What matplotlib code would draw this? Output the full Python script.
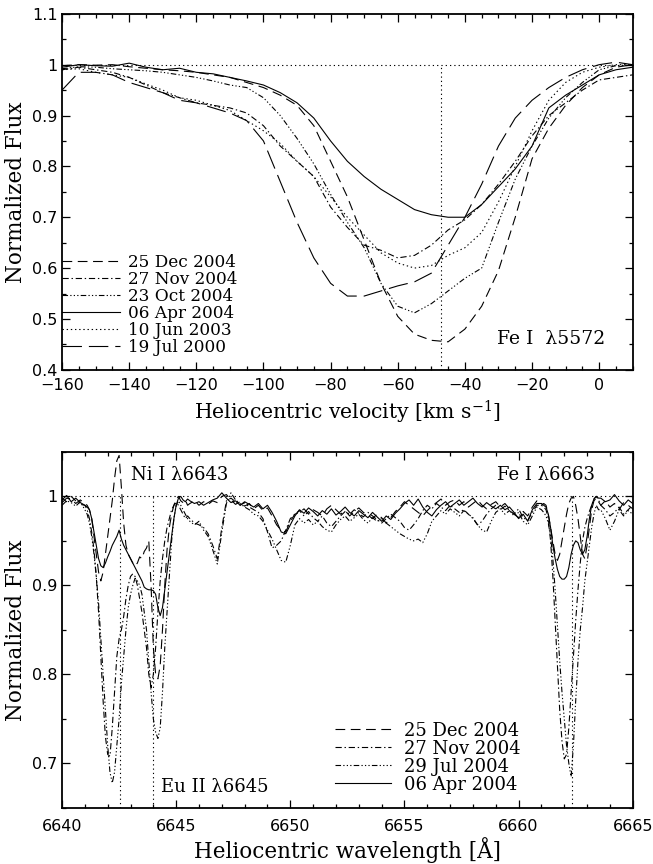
import numpy as np
import matplotlib
matplotlib.use("Agg")
import matplotlib.pyplot as plt
from matplotlib.ticker import MultipleLocator, FuncFormatter

plt.rcParams['lines.scale_dashes'] = False
plt.rcParams['mathtext.fontset'] = 'dejavuserif'
plt.rcParams['font.family'] = 'DejaVu Sans'

# ---- top panel: Fe I 5572 profiles vs heliocentric velocity
velocity = np.arange(-160, 11, 5)

dec25_2004 = [0.998, 1.000, 0.999, 1.000, 0.996, 0.993, 0.990, 0.988, 0.985, 0.980,
              0.975, 0.965, 0.955, 0.940, 0.920, 0.880, 0.810, 0.740, 0.655, 0.570,
              0.505, 0.470, 0.458, 0.455, 0.480, 0.525, 0.595, 0.700, 0.815, 0.875,
              0.920, 0.955, 0.980, 0.995, 1.000]
nov27_2004 = [0.990, 0.995, 0.990, 0.985, 0.975, 0.960, 0.945, 0.935, 0.925, 0.920,
              0.915, 0.905, 0.880, 0.840, 0.810, 0.780, 0.720, 0.680, 0.645, 0.635,
              0.620, 0.625, 0.645, 0.675, 0.695, 0.725, 0.765, 0.810, 0.860, 0.900,
              0.925, 0.950, 0.970, 0.975, 0.980]
oct23_2004 = [0.992, 0.996, 0.995, 0.992, 0.990, 0.988, 0.985, 0.980, 0.975, 0.968,
              0.960, 0.955, 0.935, 0.900, 0.855, 0.805, 0.745, 0.690, 0.640, 0.570,
              0.525, 0.512, 0.530, 0.555, 0.580, 0.600, 0.690, 0.775, 0.840, 0.895,
              0.935, 0.965, 0.990, 0.998, 1.000]
apr06_2004 = [0.995, 1.000, 0.998, 0.997, 1.003, 0.995, 0.990, 0.993, 0.985, 0.982,
              0.975, 0.968, 0.960, 0.945, 0.925, 0.895, 0.850, 0.810, 0.780, 0.755,
              0.735, 0.715, 0.705, 0.700, 0.700, 0.725, 0.760, 0.795, 0.840, 0.915,
              0.940, 0.960, 0.980, 0.990, 0.995]
jun10_2003 = [0.990, 0.992, 0.985, 0.980, 0.975, 0.962, 0.950, 0.935, 0.930, 0.920,
              0.910, 0.890, 0.870, 0.845, 0.810, 0.780, 0.740, 0.700, 0.665, 0.630,
              0.610, 0.600, 0.605, 0.625, 0.640, 0.670, 0.730, 0.800, 0.870, 0.930,
              0.965, 0.985, 0.995, 1.000, 1.000]
jul19_2000 = [0.950, 0.985, 0.985, 0.980, 0.965, 0.955, 0.945, 0.930, 0.925, 0.915,
              0.905, 0.890, 0.850, 0.770, 0.690, 0.620, 0.570, 0.545, 0.545, 0.555,
              0.565, 0.573, 0.590, 0.645, 0.700, 0.765, 0.840, 0.895, 0.930, 0.955,
              0.975, 0.990, 1.000, 1.005, 1.000]
top_labels = ['25 Dec 2004', '27 Nov 2004', '23 Oct 2004',
              '06 Apr 2004', '10 Jun 2003', '19 Jul 2000']
rest_velocity = -47.0

# ---- bottom panel: 6640-6665 A region
wavelength = np.concatenate([
    np.linspace(6640.0, 6640.8, 5),
    np.linspace(6641.0, 6645.5, 46),
    np.linspace(6645.6, 6660.8, 77),
    np.linspace(6661.0, 6663.5, 26),
    np.linspace(6663.6, 6665.0, 8),
])

dec25_flux = [
    0.993, 0.998, 0.997, 0.992, 0.996,
    0.992, 0.990, 0.985, 0.975, 0.955, 0.935, 0.915, 0.905, 0.915, 0.935,
    0.955, 0.975, 0.995, 1.020, 1.040, 1.046, 1.010, 0.970, 0.945, 0.935,
    0.930, 0.925, 0.922, 0.925, 0.932, 0.930, 0.938, 0.942, 0.950, 0.900,
    0.830, 0.800, 0.795, 0.810, 0.850, 0.900, 0.940, 0.965, 0.980, 0.990,
    0.997, 1.000, 0.995, 0.993, 0.996, 0.990,
    0.992, 0.995, 0.990, 0.994, 0.991, 0.995, 0.993, 1.000, 1.002, 0.996,
    0.991, 0.994, 0.989, 0.992, 0.986, 0.990, 0.984, 0.987, 0.978, 0.968,
    0.962, 0.960, 0.972, 0.980, 0.982, 0.986, 0.980, 0.985, 0.982, 0.978,
    0.986, 0.990, 0.985, 0.980, 0.984, 0.978, 0.983, 0.987, 0.982, 0.979,
    0.975, 0.980, 0.976, 0.970, 0.976, 0.983, 0.988, 0.994, 0.990, 0.986,
    0.982, 0.978, 0.984, 0.989, 0.993, 0.997, 0.990, 0.994, 0.996, 0.990,
    0.994, 0.988, 0.992, 0.996, 0.990, 0.986, 0.991, 0.994, 0.988, 0.992,
    0.986, 0.980, 0.976, 0.983, 0.978, 0.988, 0.995,
    0.990, 0.992, 0.990, 0.980, 0.965, 0.950, 0.935, 0.928, 0.935, 0.950,
    0.965, 0.980, 0.992, 0.998, 1.000, 0.990, 0.975, 0.955, 0.935, 0.930,
    0.945, 0.965, 0.985, 0.995, 0.998, 0.994,
    0.990, 0.995, 0.988, 0.992, 0.985, 0.993, 0.990, 0.986,
]
nov27_flux = [
    0.998, 0.994, 1.000, 0.995, 0.991,
    0.990, 0.985, 0.975, 0.960, 0.940, 0.910, 0.870, 0.820, 0.770, 0.730,
    0.710, 0.708, 0.740, 0.780, 0.820, 0.840, 0.850, 0.865, 0.885, 0.900,
    0.910, 0.913, 0.910, 0.900, 0.885, 0.870, 0.850, 0.830, 0.800, 0.785,
    0.800, 0.830, 0.870, 0.905, 0.930, 0.950, 0.965, 0.975, 0.985, 0.990,
    0.993, 0.990, 0.985, 0.980, 0.975, 0.978,
    0.975, 0.970, 0.968, 0.965, 0.958, 0.945, 0.930, 0.965, 0.995, 0.998,
    0.994, 0.990, 0.993, 0.988, 0.985, 0.982, 0.975, 0.960, 0.942, 0.945,
    0.950, 0.962, 0.975, 0.980, 0.984, 0.978, 0.983, 0.976, 0.972, 0.978,
    0.970, 0.966, 0.972, 0.978, 0.983, 0.980, 0.985, 0.981, 0.977, 0.982,
    0.978, 0.974, 0.970, 0.975, 0.980, 0.976, 0.972, 0.965, 0.962, 0.968,
    0.975, 0.984, 0.990, 0.986, 0.992, 0.988, 0.984, 0.990, 0.986, 0.982,
    0.985, 0.980, 0.975, 0.968, 0.972, 0.980, 0.986, 0.990, 0.985, 0.989,
    0.984, 0.980, 0.986, 0.976, 0.973, 0.982, 0.990,
    0.990, 0.988, 0.985, 0.975, 0.950, 0.910, 0.860, 0.810, 0.760, 0.725,
    0.705, 0.710, 0.740, 0.780, 0.820, 0.860, 0.895, 0.925, 0.950, 0.965,
    0.975, 0.983, 0.990, 0.997, 1.000, 0.996,
    0.990, 0.985, 0.978, 0.982, 0.988, 0.980, 0.985, 0.990,
]
jul29_flux = [
    0.990, 0.995, 0.993, 0.989, 0.994,
    0.985, 0.980, 0.970, 0.955, 0.935, 0.910, 0.880, 0.840, 0.800, 0.760,
    0.720, 0.690, 0.678, 0.690, 0.720, 0.750, 0.790, 0.820, 0.850, 0.875,
    0.890, 0.900, 0.908, 0.905, 0.900, 0.890, 0.870, 0.850, 0.815, 0.780,
    0.750, 0.735, 0.728, 0.740, 0.780, 0.830, 0.870, 0.910, 0.950, 0.975,
    0.990, 0.995, 0.990, 0.985, 0.980, 0.975,
    0.972, 0.968, 0.972, 0.962, 0.955, 0.940, 0.924, 0.960, 0.992, 1.004,
    0.996, 0.992, 0.988, 0.985, 0.980, 0.978, 0.972, 0.962, 0.952, 0.940,
    0.928, 0.926, 0.945, 0.968, 0.975, 0.970, 0.974, 0.968, 0.972, 0.966,
    0.962, 0.960, 0.968, 0.974, 0.978, 0.972, 0.976, 0.980, 0.974, 0.970,
    0.976, 0.972, 0.975, 0.970, 0.966, 0.962, 0.958, 0.955, 0.952, 0.950,
    0.952, 0.948, 0.958, 0.972, 0.978, 0.984, 0.980, 0.986, 0.982, 0.978,
    0.984, 0.980, 0.976, 0.968, 0.962, 0.960, 0.972, 0.982, 0.986, 0.980,
    0.984, 0.978, 0.982, 0.972, 0.968, 0.978, 0.988,
    0.985, 0.982, 0.978, 0.970, 0.955, 0.930, 0.895, 0.855, 0.815, 0.780,
    0.750, 0.720, 0.700, 0.685, 0.720, 0.770, 0.815, 0.850, 0.875, 0.905,
    0.925, 0.945, 0.965, 0.980, 0.990, 0.985,
    0.985, 0.975, 0.962, 0.972, 0.985, 0.978, 0.984, 0.980,
]
apr06_flux = [
    0.996, 1.001, 0.994, 0.998, 0.993,
    0.990, 0.988, 0.985, 0.975, 0.960, 0.945, 0.930, 0.922, 0.920, 0.925,
    0.932, 0.938, 0.945, 0.950, 0.955, 0.962, 0.952, 0.945, 0.940, 0.935,
    0.930, 0.925, 0.920, 0.915, 0.910, 0.905, 0.898, 0.896, 0.895, 0.895,
    0.894, 0.890, 0.875, 0.866, 0.875, 0.895, 0.915, 0.935, 0.955, 0.975,
    0.990, 0.998, 1.000, 0.996, 0.994, 0.997,
    0.995, 0.992, 0.994, 0.990, 0.993, 0.996, 0.998, 1.004, 0.998, 0.993,
    0.995, 0.990, 0.994, 0.991, 0.988, 0.992, 0.986, 0.990, 0.982, 0.972,
    0.960, 0.958, 0.968, 0.978, 0.985, 0.981, 0.987, 0.983, 0.978, 0.984,
    0.980, 0.986, 0.979, 0.983, 0.988, 0.982, 0.978, 0.984, 0.980, 0.976,
    0.982, 0.977, 0.972, 0.978, 0.974, 0.981, 0.986, 0.992, 0.996, 0.990,
    0.997, 0.988, 0.982, 0.978, 0.985, 0.990, 0.994, 0.988, 0.992, 0.996,
    0.990, 0.994, 0.998, 0.992, 0.988, 0.993, 0.989, 0.986, 0.990, 0.985,
    0.988, 0.982, 0.975, 0.980, 0.972, 0.985, 0.992,
    0.992, 0.990, 0.988, 0.980, 0.965, 0.945, 0.930, 0.918, 0.910, 0.907,
    0.907, 0.910, 0.920, 0.935, 0.945, 0.950, 0.948, 0.940, 0.935, 0.940,
    0.955, 0.975, 0.990, 0.997, 1.000, 0.998,
    0.998, 0.994, 0.996, 1.002, 0.995, 0.990, 0.996, 0.992,
]
bottom_labels = ['25 Dec 2004', '27 Nov 2004', '29 Jul 2004', '06 Apr 2004']
line_centres = [6642.54, 6643.97, 6662.34]

# line styles (points)
DASH = (0, (7, 4))
DASHDOT = (0, (4.5, 2, 1, 2))
DASH3DOT = (0, (4, 1.6, 0.9, 1.6, 0.9, 1.6, 0.9, 1.6))
DOT = (0, (1, 2))
LONGDASH = (0, (14, 5))
REFDOT = (0, (0.9, 2.2))

serif = 'DejaVu Serif'
lw = 0.8


def fmt(v, pos):
    return ('%g' % v).replace('-', '\u2212')


def style_axes(ax, xmaj, xmin, ymaj, ymin, xpad):
    ax.xaxis.set_major_locator(MultipleLocator(xmaj))
    ax.xaxis.set_minor_locator(MultipleLocator(xmin))
    ax.yaxis.set_major_locator(MultipleLocator(ymaj))
    ax.yaxis.set_minor_locator(MultipleLocator(ymin))
    ax.xaxis.set_major_formatter(FuncFormatter(fmt))
    ax.yaxis.set_major_formatter(FuncFormatter(fmt))
    ax.tick_params(which='both', direction='in', top=True, right=True,
                   labelsize=11.5, width=0.9)
    ax.tick_params(which='major', length=6)
    ax.tick_params(which='minor', length=3)
    ax.tick_params(axis='x', which='major', pad=xpad)
    ax.tick_params(axis='y', which='major', pad=3)
    for s in ax.spines.values():
        s.set_linewidth(1.3)


fig = plt.figure(figsize=(6.53, 8.64), dpi=100)
ax1 = fig.add_axes([0.095, 0.572, 0.874, 0.412])
ax2 = fig.add_axes([0.095, 0.065, 0.874, 0.412])

# top panel
ax1.axhline(1.0, color='k', lw=lw, ls=REFDOT)
ax1.plot([rest_velocity, rest_velocity], [0.4, 1.0], color='k', lw=lw, ls=REFDOT)
top_series = [dec25_2004, nov27_2004, oct23_2004, apr06_2004, jun10_2003, jul19_2000]
top_styles = [DASH, DASHDOT, DASH3DOT, '-', DOT, LONGDASH]
for y, st, lab in zip(top_series, top_styles, top_labels):
    ax1.plot(velocity, y, color='k', lw=lw, ls=st, label=lab)
ax1.set_xlim(-160, 10)
ax1.set_ylim(0.4, 1.1)
style_axes(ax1, 20, 5, 0.1, 0.05, 6)
ax1.set_xlabel('Heliocentric velocity [km s$^{-1}$]', family=serif, fontsize=14.7,
               labelpad=4)
ax1.set_ylabel('Normalized Flux', family=serif, fontsize=15.5, labelpad=4)
ax1.text(-30.5, 0.46, 'Fe I  \u03bb5572', family=serif, fontsize=13.5, va='center')
ax1.legend(loc='lower left', bbox_to_anchor=(0.0, 0.04), frameon=False,
           prop={'family': serif, 'size': 12.2}, handlelength=3.4,
           handletextpad=0.5, labelspacing=0.0, borderpad=0, borderaxespad=0)

# bottom panel
ax2.axhline(1.0, color='k', lw=lw, ls=REFDOT)
for lc in line_centres:
    ax2.plot([lc, lc], [0.65, 1.0], color='k', lw=lw, ls=REFDOT)
bottom_series = [dec25_flux, nov27_flux, jul29_flux, apr06_flux]
bottom_styles = [DASH, DASHDOT, DASH3DOT, '-']
for y, st, lab in zip(bottom_series, bottom_styles, bottom_labels):
    ax2.plot(wavelength, y, color='k', lw=lw, ls=st, label=lab)
ax2.set_xlim(6640, 6665)
ax2.set_ylim(0.65, 1.05)
style_axes(ax2, 5, 1, 0.1, 0.05, 8)
ax2.set_xlabel('Heliocentric wavelength [\u00c5]', family=serif, fontsize=15.5,
               labelpad=2)
ax2.set_ylabel('Normalized Flux', family=serif, fontsize=15.5, labelpad=4)
ax2.text(6643.02, 1.024, 'Ni I \u03bb6643', family=serif, fontsize=13, va='center')
ax2.text(6644.33, 0.673, 'Eu II \u03bb6645', family=serif, fontsize=13, va='center')
ax2.text(6659.05, 1.024, 'Fe I \u03bb6663', family=serif, fontsize=13, va='center')
ax2.legend(loc='lower left', bbox_to_anchor=(0.478, 0.04), frameon=False,
           prop={'family': serif, 'size': 13}, handlelength=3.1,
           handletextpad=0.75, labelspacing=0.0, borderpad=0, borderaxespad=0)

fig.savefig('out.png', dpi=100)
